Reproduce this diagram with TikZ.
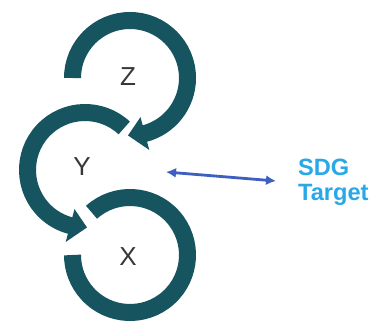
\documentclass[tikz,border=0pt]{standalone}
\usepackage{fontspec}
\setmainfont{Liberation Sans}
\usetikzlibrary{calc,arrows.meta}
\definecolor{ringc}{RGB}{22,84,96}
\definecolor{lblc}{RGB}{55,55,55}
\definecolor{arrc}{RGB}{62,94,192}
\definecolor{sdgc}{RGB}{41,168,232}
\tikzset{
  ringbody/.style={draw=ringc, line width=17pt, line cap=butt},
  ringhead/.style={fill=ringc, draw=none},
  lbl/.style={text=lblc, inner sep=0pt, font=\fontsize{26}{30}\selectfont},
  sdglbl/.style={text=sdgc, inner sep=0pt, align=left, font=\fontsize{23.6}{24.5}\selectfont\bfseries},
  linkarrow/.style={draw=arrc, line width=2.8pt, {Latex[length=10pt,width=10pt]}-{Latex[length=10pt,width=10pt]}}
}
\begin{document}
\begin{tikzpicture}[x=1pt,y=1pt]
\useasboundingbox (0,0) rectangle (373,324);
\fill[white] (0,0) rectangle (373,324);
\def\R{57.5}
\coordinate (cz) at (130,246);
\coordinate (cy) at (85,154);
\coordinate (cx) at (130,69);
% Z ring
\draw[ringbody] ($(cz)+(180:\R)$) arc[start angle=180, end angle=-76, radius=\R];
\fill[ringhead] ($(cz)+(-75:40.5)$) -- ($(cz)+(-75:74.5)$) -- ($(cz)+(-92:\R)$) -- cycle;
% Y ring
\draw[ringbody] ($(cy)+(47:\R)$) arc[start angle=47, end angle=256, radius=\R];
\fill[ringhead] ($(cy)+(255:40.5)$) -- ($(cy)+(255:74.5)$) -- ($(cy)+(272:\R)$) -- cycle;
% X ring
\draw[ringbody] ($(cx)+(132:\R)$) arc[start angle=132, end angle=-180, radius=\R];
% labels
\node[lbl] (Z) at (128,247) {Z};
\node[lbl] (Y) at (82,157) {Y};
\node[lbl] (X) at (128,67) {X};
\node[sdglbl, anchor=north west] (sdg) at (298,165) {SDG\\Target};
\coordinate (arrL) at (166,152);
\coordinate (arrR) at (276,143);
\draw[linkarrow] (arrL) -- (arrR);
\end{tikzpicture}
\end{document}
